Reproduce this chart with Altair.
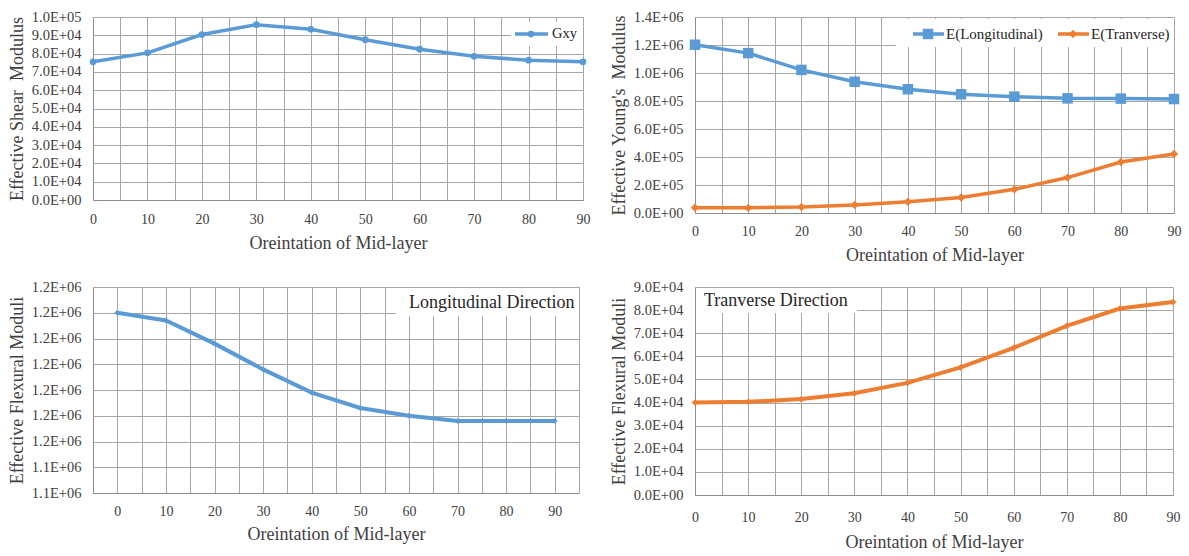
import altair as alt
import pandas as pd

# ---------------- data ----------------
angles = [0, 10, 20, 30, 40, 50, 60, 70, 80, 90]
gxy = [75500, 80400, 90400, 95800, 93300, 87600, 82400, 78500, 76400, 75500]
e_long = [1202000, 1142000, 1022000, 937000, 884000, 848000, 831000, 819000, 817000, 814000]
e_tran = [38000, 37000, 43000, 58000, 80000, 111000, 169000, 253000, 364000, 422000]
flex_long = [1200000, 1197000, 1188000, 1178000, 1169000, 1163000, 1160000, 1158000, 1158000, 1158000]
flex_tran = [40000, 40300, 41500, 44000, 48500, 55200, 63700, 73200, 80700, 83500]

x_grid = list(range(0, 95, 5))
x_grid_wide = list(range(-5, 100, 5))
y1_ticks = list(range(0, 110000, 10000))
y2_ticks = list(range(0, 1600000, 200000))
y3_ticks = list(range(1130000, 1220000, 10000))
y4_ticks = list(range(0, 100000, 10000))

x_title = "Oreintation of Mid-layer"

FONT = "Liberation Serif"
BLUE = "#5B9BD5"
ORANGE = "#ED7D31"
GRID = "#a6a6a6"
TXT = "#404040"

SCI = "replace(format(datum.value, '.1e'), 'e+', 'E+0')"
XLAB = "datum.value % 10 == 0 ? format(datum.value, 'd') : ''"

COMMON = dict(
    grid=True, gridColor=GRID, gridWidth=1, gridOpacity=1,
    domainColor="#8c8c8c", domainWidth=1, ticks=False, tickSize=0,
    labelFont=FONT, labelColor=TXT,
    labelFlush=False, labelOverlap=False, labelBound=False,
    titleFont=FONT, titleFontSize=18, titleColor=TXT, titleFontWeight="normal",
)


def xaxis(values, label_pad, title_pad):
    return alt.Axis(values=values, labelExpr=XLAB, title=x_title, labelFontSize=14,
                    labelPadding=label_pad, titlePadding=title_pad, **COMMON)


def yaxis(values, title):
    return alt.Axis(values=values, labelExpr=SCI, title=title, labelFontSize=14.5,
                    labelPadding=12, titlePadding=5, **COMMON)


def series(df, col, color, shape, size, width, domain_x, xvals, yvals, ydom, ytitle, lab_pad, tit_pad):
    x = alt.X("angle:Q", scale=alt.Scale(domain=domain_x, nice=False, zero=False),
              axis=xaxis(xvals, lab_pad, tit_pad))
    y = alt.Y(f"{col}:Q", scale=alt.Scale(domain=ydom, nice=False, zero=False),
              axis=yaxis(yvals, ytitle))
    base = alt.Chart(df)
    line = base.mark_line(color=color, strokeWidth=width).encode(x=x, y=y)
    pts = base.mark_point(color=color, filled=True, opacity=1, shape=shape, size=size).encode(x=x, y=y)
    return line, pts


def one():
    return alt.Chart(alt.Data(values=[{"k": 1}]))


def box(x1, x2, y1, y2):
    return one().mark_rect(color="white").encode(
        x=alt.value(x1), x2=alt.value(x2), y=alt.value(y1), y2=alt.value(y2))


def leg_line(x1, x2, y, color):
    return one().mark_rule(color=color, strokeWidth=3.5).encode(
        x=alt.value(x1), x2=alt.value(x2), y=alt.value(y))


def leg_mark(x, y, color, shape, size):
    return one().mark_point(color=color, filled=True, opacity=1, shape=shape, size=size).encode(
        x=alt.value(x), y=alt.value(y))


def label(x, y, text, size):
    return one().mark_text(align="left", baseline="middle", font=FONT, fontSize=size,
                           color="#262626", text=text).encode(x=alt.value(x), y=alt.value(y))


df1 = pd.DataFrame({"angle": angles, "gxy": gxy})
df2 = pd.DataFrame({"angle": angles, "el": e_long, "et": e_tran})
df3 = pd.DataFrame({"angle": angles, "fl": flex_long})
df4 = pd.DataFrame({"angle": angles, "ft": flex_tran})

# Panel 1
l1, p1 = series(df1, "gxy", BLUE, "circle", 45, 3.5, [0, 90], x_grid, y1_ticks, [0, 100000],
                "Effective Shear\u00a0 Modulus", 12, 8)
panel1 = alt.layer(
    l1, p1,
    box(418, 490, 5, 29), leg_line(422, 455, 17, BLUE), leg_mark(438, 17, BLUE, "circle", 45),
    label(459, 17, "Gxy", 14.5),
).properties(width=490, height=183)

# Panel 2
l2a, p2a = series(df2, "el", BLUE, "square", 110, 3.5, [0, 90], x_grid, y2_ticks, [0, 1400000],
                  "Effective Young's\u00a0 Modulus", 11, 8)
l2b, p2b = series(df2, "et", ORANGE, "diamond", 70, 3.5, [0, 90], x_grid, y2_ticks, [0, 1400000],
                  "Effective Young's\u00a0 Modulus", 11, 8)
panel2 = alt.layer(
    l2a, l2b, p2a, p2b,
    box(201, 479, 2, 30),
    leg_line(218, 249, 17, BLUE), leg_mark(233, 17, BLUE, "square", 110),
    label(251, 17, "E(Longitudinal)", 15),
    leg_line(363, 394, 17, ORANGE), leg_mark(378, 17, ORANGE, "diamond", 70),
    label(396, 17, "E(Tranverse)", 15),
).properties(width=479, height=196)

# Panel 3
l3, p3 = series(df3, "fl", BLUE, "diamond", 35, 4, [-5, 95], x_grid_wide, y3_ticks,
                [1130000, 1210000], "Effective Flexural Moduli", 11, 7)
panel3 = alt.layer(
    l3, p3,
    box(303, 486, 1, 29), label(316, 16, "Longitudinal Direction", 18),
).properties(width=486, height=206)

# Panel 4
l4, p4 = series(df4, "ft", ORANGE, "diamond", 45, 4, [0, 90], x_grid, y4_ticks, [0, 90000],
                "Effective Flexural Moduli", 15, 9)
panel4 = alt.layer(
    l4, p4,
    box(1, 162, 1, 26), label(9, 14, "Tranverse Direction", 18),
).properties(width=478, height=208)

chart = alt.concat(
    panel1, panel2, panel3, panel4,
    columns=2,
    spacing=alt.RowColnumber(row=74, column=112),
    bounds="flush",
    align="each",
).properties(
    padding={"left": 8, "top": 9, "right": 4, "bottom": 4}
).configure(
    font=FONT
).configure_view(
    stroke=None
)

chart.save("out.html", embed_options={"renderer": "svg", "actions": False})
